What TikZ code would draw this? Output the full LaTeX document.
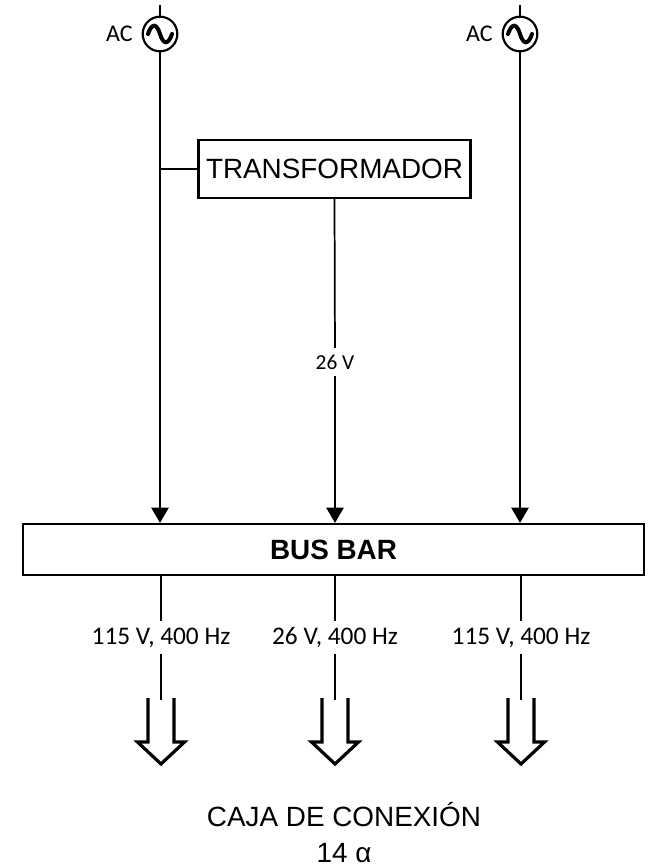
\documentclass[tikz,border=0pt]{standalone}
\usepackage{fontspec}
\setmainfont{Liberation Sans}
\newfontfamily\labelfont{Carlito}
\usetikzlibrary{arrows.meta}
\begin{document}
\begin{tikzpicture}[x=0.75pt,y=-0.75pt,line width=1.3pt,>={Triangle[length=11.5pt,width=13pt]}]
\tikzstyle{every node}=[inner sep=0pt];
\tikzstyle{acsource}=[draw,shape=circle,minimum size=26pt,line width=1.6pt];
\tikzstyle{block}=[draw,rectangle,line width=1.6pt];
\tikzstyle{wirelabel}=[font=\labelfont\fontsize{19pt}{21pt}\selectfont];
\useasboundingbox (0,0) rectangle (652,866);
% sources
\foreach \name/\x in {acleft/160,acright/520}{
	\node[acsource] (\name) at (\x,34) {};
	\node[font=\labelfont\fontsize{18pt}{20pt}\selectfont,left=6pt] (\name text) at (\name.west) {AC};
	\coordinate (\name top) at (\x,5);
	\draw (\name top) -- (\name);
	\draw[line width=3pt,line cap=round] (\x-12,34) .. controls (\x-8,22) and (\x-3,24) .. (\x,34) .. controls (\x+3,44) and (\x+8,46) .. (\x+12,34);
}
% blocks
\node[block,minimum width=204pt,minimum height=43.5pt,font=\fontsize{20.9pt}{23pt}\selectfont] (trafo) at (334.5,169) {TRANSFORMADOR};
\node[block,minimum width=465.75pt,minimum height=38.25pt,font=\bfseries\fontsize{20.9pt}{23pt}\selectfont] (busbar) at (333.5,549.5) {BUS BAR};
% inputs
\draw[->] (acleft) -- (acleft |- busbar.north);
\draw[->] (acright) -- (acright |- busbar.north);
\draw (acleft |- trafo.west) -- (trafo.west);
\node[wirelabel,font=\labelfont\fontsize{16pt}{18pt}\selectfont,minimum height=20pt] (vtrafo) at (335,362) {26 V};
\draw (trafo.south) -- (vtrafo);
\draw[->] (vtrafo) -- (vtrafo |- busbar.north);
% outputs
\foreach \name/\x/\volt in {a/161/115 V,b/335/26 V,c/521/115 V}{
	\node[wirelabel,minimum height=23pt] (out\name) at (\x,637.5) {\volt, 400 Hz};
	\coordinate (tail\name) at (\x,700);
	\draw (busbar.south -| out\name) -- (out\name);
	\draw (out\name) -- (tail\name);
	\draw[line width=2.4pt,miter limit=6] (\x-13,698) -- (\x-13,742) -- (\x-23.5,742) -- (\x,764) -- (\x+23.5,742) -- (\x+13,742) -- (\x+13,698);
}
\node[font=\fontsize{20.9pt}{26.5pt}\selectfont,align=center] (caja) at (344,832.5) {CAJA DE CONEXIÓN\\14 α};
\end{tikzpicture}
\end{document}
